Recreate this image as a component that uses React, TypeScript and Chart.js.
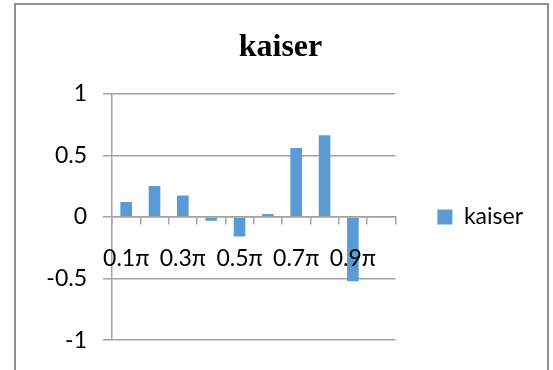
import React, { useEffect, useRef } from "react";
import { Chart, registerables } from "chart.js";

Chart.register(...registerables);

const chartTitle = "kaiser";
const seriesName = "kaiser";
const categories = ["0.1π", "0.2π", "0.3π", "0.4π", "0.5π", "0.6π", "0.7π", "0.8π", "0.9π", "π"];
const values = [0.122, 0.253, 0.176, -0.03, -0.157, 0.024, 0.56, 0.664, -0.522, 0];
const yTicks = [-1, -0.5, 0, 0.5, 1];

const LABEL_FONT = "Lato, 'Open Sans', sans-serif";
const GRID = "#a3a3a3";

export default function App() {
  const ref = useRef<HTMLCanvasElement | null>(null);
  useEffect(() => {
    if (!ref.current) return;
    const chart = new Chart(ref.current, {
      type: "bar",
      data: {
        labels: categories,
        datasets: [
          {
            label: seriesName,
            data: values,
            backgroundColor: "#5b9bd5",
            borderWidth: 0,
            categoryPercentage: 1,
            barPercentage: 0.41,
          },
        ],
      },
      options: {
        animation: false,
        responsive: false,
        maintainAspectRatio: false,
        layout: { padding: { left: 28, right: 20, top: 0, bottom: 26 } },
        plugins: {
          tooltip: { enabled: false },
          title: {
            display: true,
            text: chartTitle,
            color: "#000",
            font: { family: "'Liberation Serif', serif", size: 32, weight: "bold" },
            padding: { top: 28.5, bottom: 27 },
          },
          legend: {
            display: true,
            position: "right",
            fullSize: false,
            maxWidth: 160,
            labels: {
              boxWidth: 15,
              boxHeight: 15,
              padding: 42,
              color: "#000",
              font: { family: LABEL_FONT, size: 23 },
            },
          },
        },
        scales: {
          x: {
            position: { y: 0 },
            offset: true,
            afterFit: (s: any) => {
              s.height = 0;
            },
            grid: {
              display: true,
              offset: true,
              drawOnChartArea: false,
              drawTicks: true,
              tickLength: 7,
              color: GRID,
              lineWidth: 1.5,
              z: 1,
            },
            border: { display: true, color: GRID, width: 1.5, z: 1 },
            ticks: {
              z: 2,
              color: "#000",
              font: { family: LABEL_FONT, size: 23 },
              autoSkip: false,
              maxRotation: 0,
              minRotation: 0,
              padding: 21,
              callback: (_v: any, i: number) => (i % 2 === 0 ? categories[i] : ""),
            },
          },
          y: {
            min: -1,
            max: 1,
            afterFit: (s: any) => {
              s.width = 84;
            },
            afterBuildTicks: (s: any) => {
              s.ticks = yTicks.map((v) => ({ value: v }));
            },
            grid: {
              color: GRID,
              lineWidth: 1.5,
              drawTicks: true,
              tickLength: 9,
            },
            border: { display: true, color: GRID, width: 1.5 },
            ticks: {
              color: "#000",
              font: { family: LABEL_FONT, size: 23 },
              padding: 16,
              callback: (v: any) => String(v),
            },
          },
        },
      },
    });
    return () => chart.destroy();
  }, []);

  return (
    <div style={{ position: "fixed", left: 0, top: 0, width: 553, height: 370, background: "#fff", overflow: "hidden" }}>
      <div
        style={{
          position: "absolute",
          left: 14,
          top: 3,
          width: 535,
          height: 420,
          border: "2px solid #8f8f8f",
          boxSizing: "border-box",
        }}
      />
      <canvas ref={ref} width={553} height={370} style={{ position: "absolute", left: 0, top: 0 }} />
    </div>
  );
}
